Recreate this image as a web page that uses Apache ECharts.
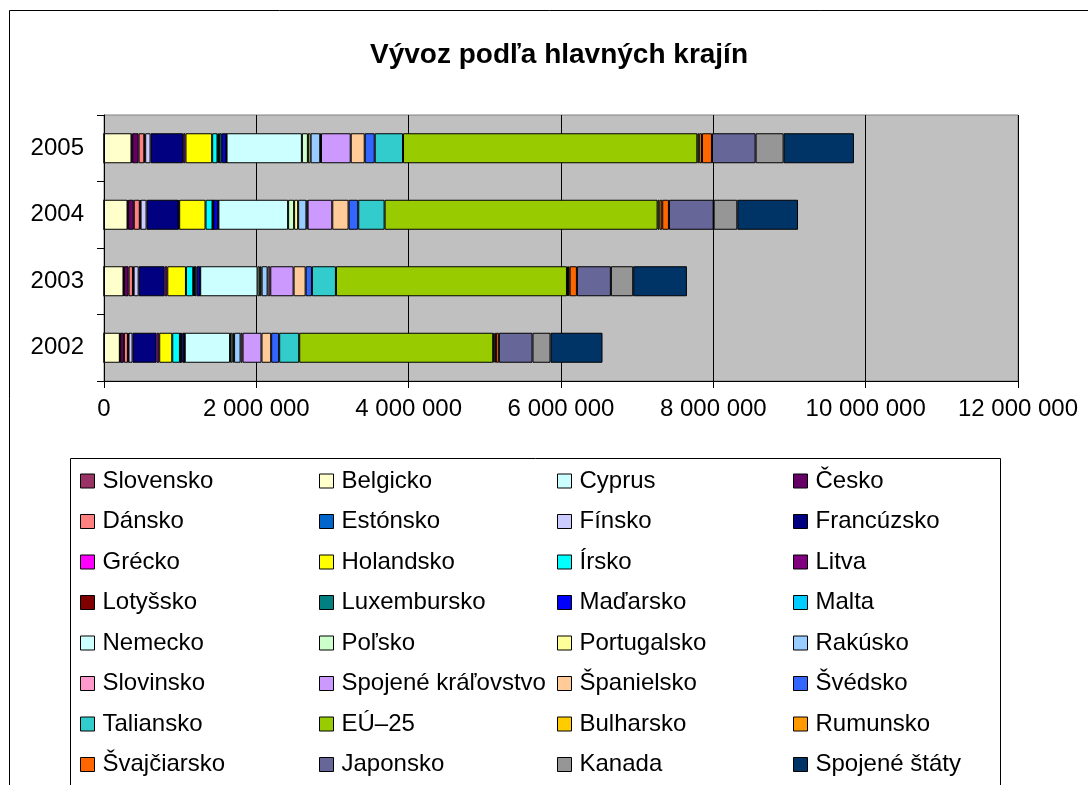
<!DOCTYPE html>
<html>
<head>
<meta charset="utf-8">
<title>Vývoz podľa hlavných krajín</title>
<script src="https://cdn.jsdelivr.net/npm/echarts@6/dist/echarts.min.js"></script>
<style>
  html, body { margin: 0; padding: 0; background: #fff; }
  #chart-show { width: 1088px; height: 785px; }
</style>
</head>
<body>
<div id="chart-show"></div>
<script>
// roky (os y, zdola nahor)
var years = ['2002', '2003', '2004', '2005'];

// krajiny v poradí legendy / skladania
var countries = ['Slovensko', 'Belgicko', 'Cyprus', 'Česko', 'Dánsko', 'Estónsko', 'Fínsko', 'Francúzsko',
  'Grécko', 'Holandsko', 'Írsko', 'Litva', 'Lotyšsko', 'Luxembursko', 'Maďarsko', 'Malta',
  'Nemecko', 'Poľsko', 'Portugalsko', 'Rakúsko', 'Slovinsko', 'Spojené kráľovstvo', 'Španielsko', 'Švédsko',
  'Taliansko', 'EÚ–25', 'Bulharsko', 'Rumunsko', 'Švajčiarsko', 'Japonsko', 'Kanada', 'Spojené štáty'];

var colors = ['#993366', '#FFFFCC', '#CCFFFF', '#660066', '#FF8080', '#0066CC', '#CCCCFF', '#000080',
  '#FF00FF', '#FFFF00', '#00FFFF', '#800080', '#800000', '#008080', '#0000FF', '#00CCFF',
  '#CCFFFF', '#CCFFCC', '#FFFF99', '#99CCFF', '#FF99CC', '#CC99FF', '#FFCC99', '#3366FF',
  '#33CCCC', '#99CC00', '#FFCC00', '#FF9900', '#FF6600', '#666699', '#969696', '#003366'];

// hodnoty vývozu podľa rokov (poradie ako countries)
var v2002 = [0, 208000, 5000, 48000, 53000, 8000, 53000, 315000,
  35000, 171000, 101000, 6000, 5000, 19000, 30000, 3000,
  595000, 30000, 23000, 85000, 26000, 249000, 127000, 105000,
  263000, 2547000, 15000, 20000, 39000, 442000, 236000, 683000];
var v2003 = [0, 256000, 6000, 61000, 57000, 9000, 66000, 341000,
  35000, 245000, 96000, 10000, 8000, 26000, 44000, 3000,
  753000, 30000, 23000, 79000, 35000, 306000, 158000, 83000,
  315000, 3033000, 15000, 20000, 96000, 446000, 293000, 705000];
var v2004 = [0, 309000, 8000, 74000, 79000, 10000, 79000, 420000,
  8000, 346000, 92000, 4000, 3000, 5000, 61000, 4000,
  915000, 79000, 53000, 109000, 15000, 324000, 214000, 127000,
  346000, 3584000, 25000, 36000, 88000, 587000, 311000, 797000];
var v2005 = [0, 361000, 10000, 83000, 75000, 12000, 70000, 429000,
  30000, 350000, 70000, 12000, 10000, 35000, 57000, 5000,
  989000, 79000, 35000, 127000, 10000, 390000, 184000, 131000,
  372000, 3864000, 25000, 36000, 131000, 573000, 368000, 923000];

// x-os: 0 .. 12 000 000, krok 2 000 000
var xMax = 12000000;
var xStep = 2000000;

window.onload = all;
function all(){
    myBarChart();
}

function fmt(v){
    return String(v).replace(/\B(?=(\d{3})+(?!\d))/g, ' ');
}

function myBarChart(){
    var chart = echarts.init(document.getElementById('chart-show'));
    var font = '"Liberation Sans", Arial, sans-serif';

    var series = countries.map(function (name, i) {
        return {
            name: name,
            type: 'bar',
            stack: 'total',
            barWidth: 30,
            itemStyle: { color: colors[i], borderColor: '#000', borderWidth: 1 },
            data: [v2002[i], v2003[i], v2004[i], v2005[i]]
        };
    });

    // legenda v 4 stĺpcoch
    var colX = [80, 319, 557, 793];
    var legends = colX.map(function (x, c) {
        var names = countries.filter(function (n, i) { return i % 4 === c; });
        return {
            data: names,
            orient: 'vertical',
            left: x,
            top: 467,
            height: 340,
            padding: 0,
            itemWidth: 14,
            itemHeight: 14,
            itemGap: 12.5,
            icon: 'rect',
            selectedMode: false,
            itemStyle: { borderColor: '#000', borderWidth: 1 },
            textStyle: { color: '#000', fontSize: 24, fontFamily: font, lineHeight: 28, padding: [0, 0, 0, 3] }
        };
    });

    var option = {
        animation: false,
        backgroundColor: '#fff',
        grid: {
            left: 104, right: 70, top: 115, bottom: 404,
            show: true, backgroundColor: '#C0C0C0', borderColor: '#808080', borderWidth: 1
        },
        legend: legends,
        graphic: [
            { type: 'rect', shape: { x: 9.5, y: 10.5, width: 1200, height: 1000 },
              style: { fill: 'none', stroke: '#000', lineWidth: 1 }, z: 0, silent: true },
            { type: 'rect', shape: { x: 70.5, y: 458.5, width: 930, height: 400 },
              style: { fill: 'none', stroke: '#000', lineWidth: 1 }, z: 0, silent: true },
            { type: 'text', x: 559, y: 55,
              style: { text: 'Vývoz podľa hlavných krajín', font: 'bold 28px ' + font, fill: '#000',
                       textAlign: 'center', textVerticalAlign: 'middle' } }
        ],
        xAxis: {
            type: 'value',
            min: 0, max: xMax, interval: xStep,
            axisLine: { show: true, lineStyle: { color: '#000' } },
            axisTick: { show: true, length: 7, lineStyle: { color: '#000' } },
            axisLabel: { color: '#000', fontSize: 24, fontFamily: font, margin: 16, formatter: fmt },
            splitLine: { show: true, lineStyle: { color: '#000', width: 1 } }
        },
        yAxis: {
            type: 'category',
            data: years,
            axisLine: { show: true, lineStyle: { color: '#000' } },
            axisTick: { show: true, length: 7, alignWithLabel: false, lineStyle: { color: '#000' } },
            axisLabel: { color: '#000', fontSize: 24, fontFamily: font, margin: 20 },
            splitLine: { show: false }
        },
        series: series
    };
    chart.setOption(option);
    setTimeout(function (){
        window.onresize = function () {
            chart.resize();
        }
    }, 200);
}
</script>
</body>
</html>
